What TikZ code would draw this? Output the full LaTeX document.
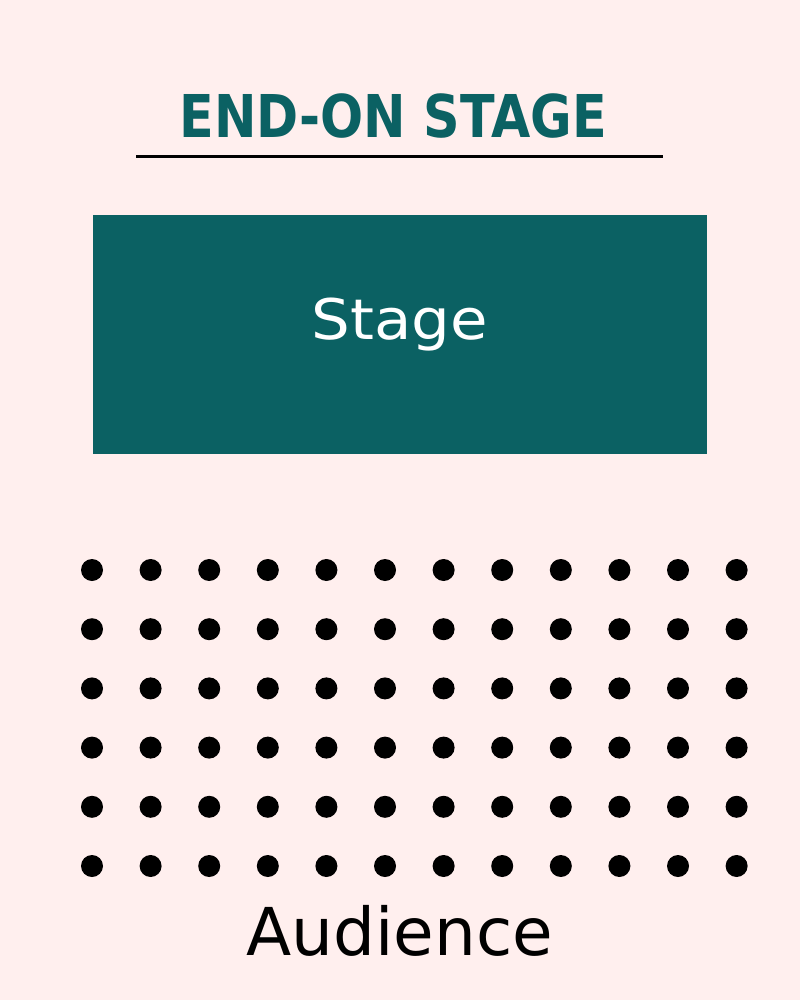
\documentclass[tikz,border=0pt]{standalone}
\usepackage{fontspec}
\setmainfont{DejaVu Sans}
\usepackage{xcolor}
\definecolor{StageTeal}{HTML}{0B6163}
\definecolor{BgPink}{HTML}{FFEFEE}
\usetikzlibrary{calc}

\begin{document}
\begin{tikzpicture}[x = 1pt, y = -1pt]
    \fill [BgPink] (0, 0) rectangle (800, 1000);
    \node [StageTeal, anchor = base, inner sep = 0, font = \fontsize{59}{59}\selectfont\bfseries] (title) at (393, 138) {\scalebox{0.86}[1]{END-ON STAGE}};
    \coordinate (rulel) at (136, 157);
    \coordinate (ruler) at (663, 157);
    \draw [line width = 3pt] (rulel) -- (ruler);
    \fill [StageTeal] (93, 215) rectangle (707, 454);
    \node [white, anchor = base, inner sep = 0, font = \fontsize{56}{56}\selectfont] (stage) at (400, 339) {\scalebox{1.09}[1]{Stage}};
    \foreach \r in {0, ..., 5} {
        \foreach \c in {0, ..., 11} {
            \fill [black] (92 + 58.6*\c, 570 + 59.2*\r) circle (11);
        }
    }
    \node [black, anchor = base, inner sep = 0, font = \fontsize{66}{66}\selectfont] (audience) at (400, 955) {Audience};
\end{tikzpicture}
\end{document}
